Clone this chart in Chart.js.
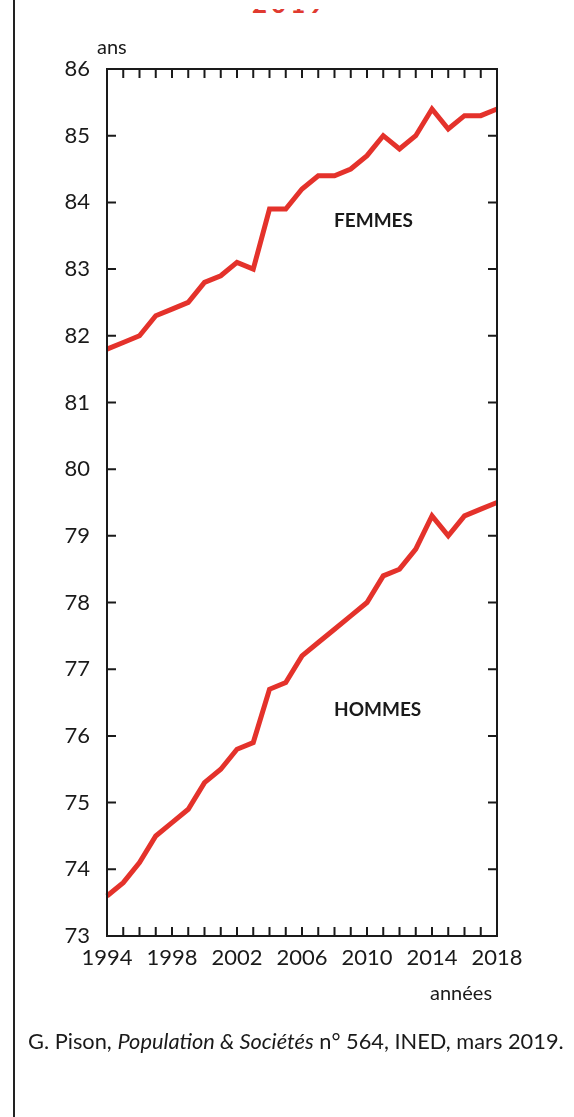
<!DOCTYPE html>
<html>
<head>
<meta charset="utf-8">
<script src="https://cdn.jsdelivr.net/npm/chart.js@4.4.1/dist/chart.umd.min.js"></script>
<style>
  body { margin: 0; background: #fff; }
  #wrap { position: relative; width: 574px; height: 1117px; overflow: hidden; font-family: Lato, sans-serif; color: #1a1a1a; }
  #wrap canvas { position: absolute; left: 0; top: 0; }
  .txt { position: absolute; white-space: nowrap; }
  #leftbar { position: absolute; left: 13px; top: 0; width: 2px; height: 1117px; background: #222; }
  #redbit { position: absolute; left: 252px; top: 9px; height: 4px; overflow: hidden; }
  #redbit span { display: block; margin-top: -22px; font: bold 26px Lato, sans-serif; color: #e03a30; letter-spacing: 4px; }
</style>
</head>
<body>
<div id="wrap">
  <div id="leftbar"></div>
  <div id="redbit"><span>2019</span></div>
  <canvas id="lifeChart" width="574" height="1117"></canvas>
  <div class="txt" style="left:97px; top:34px; font-size:20px;">ans</div>
  <div class="txt" style="left:430px; top:980px; font-size:20px;">années</div>
  <div class="txt" style="left:334px; top:208px; font-size:19px; font-weight:bold;">FEMMES</div>
  <div class="txt" style="left:334px; top:697px; font-size:19px; font-weight:bold;">HOMMES</div>
  <div class="txt" style="left:28px; top:1027px; font-size:21.8px;">G. Pison, <i>Population &amp; Sociétés</i> n° 564, INED, mars 2019.</div>
</div>
<script>
// espérance de vie à la naissance, France
const years = [1994, 1995, 1996, 1997, 1998, 1999, 2000, 2001, 2002, 2003, 2004, 2005, 2006,
  2007, 2008, 2009, 2010, 2011, 2012, 2013, 2014, 2015, 2016, 2017, 2018];
const femmes = [81.8, 81.9, 82.0, 82.3, 82.4, 82.5, 82.8, 82.9, 83.1, 83.0, 83.9, 83.9, 84.2,
  84.4, 84.4, 84.5, 84.7, 85.0, 84.8, 85.0, 85.4, 85.1, 85.3, 85.3, 85.4];
const hommes = [73.6, 73.8, 74.1, 74.5, 74.7, 74.9, 75.3, 75.5, 75.8, 75.9, 76.7, 76.8, 77.2,
  77.4, 77.6, 77.8, 78.0, 78.4, 78.5, 78.8, 79.3, 79.0, 79.3, 79.4, 79.5];
const xTicks = [1994, 1998, 2002, 2006, 2010, 2014, 2018];
const yMin = 73, yMax = 86;

const red = '#e4322b';

function toPoints(vals) {
  return years.map((y, i) => ({ x: y, y: vals[i] }));
}

// cadre + petites graduations vers l'intérieur
const frameTicks = {
  id: 'frameTicks',
  afterDatasetsDraw(chart) {
    const ctx = chart.ctx, a = chart.chartArea;
    const xs = chart.scales.x, ys = chart.scales.y;
    ctx.save();
    ctx.strokeStyle = '#1a1a1a';
    ctx.lineWidth = 2;
    ctx.strokeRect(a.left, a.top, a.right - a.left, a.bottom - a.top);
    ctx.beginPath();
    years.forEach(y => {
      if (y === years[0] || y === years[years.length - 1]) return;
      const px = xs.getPixelForValue(y);
      ctx.moveTo(px, a.top); ctx.lineTo(px, a.top + 9);
      ctx.moveTo(px, a.bottom); ctx.lineTo(px, a.bottom - 9);
    });
    for (let v = yMin + 1; v < yMax; v++) {
      const py = ys.getPixelForValue(v);
      ctx.moveTo(a.left, py); ctx.lineTo(a.left + 9, py);
      ctx.moveTo(a.right, py); ctx.lineTo(a.right - 9, py);
    }
    ctx.stroke();
    ctx.restore();
  }
};

new Chart(document.getElementById('lifeChart'), {
  type: 'line',
  data: {
    datasets: [
      { label: 'Femmes', data: toPoints(femmes), borderColor: red, borderWidth: 5, pointRadius: 0, tension: 0, clip: false },
      { label: 'Hommes', data: toPoints(hommes), borderColor: red, borderWidth: 5, pointRadius: 0, tension: 0, clip: false }
    ]
  },
  options: {
    responsive: false,
    animation: false,
    layout: { padding: { top: 69, right: 77, bottom: 141, left: 0 } },
    plugins: { legend: { display: false }, tooltip: { enabled: false } },
    scales: {
      x: {
        type: 'linear', min: 1994, max: 2018,
        afterBuildTicks: s => { s.ticks = xTicks.map(v => ({ value: v })); },
        afterFit: s => { s.height = 40; },
        grid: { display: false },
        border: { display: false },
        ticks: { color: '#1a1a1a', font: { family: 'Lato', size: 22 }, padding: 1, maxRotation: 0, autoSkip: false,
          callback: v => String(v) }
      },
      y: {
        min: yMin, max: yMax,
        afterFit: s => { s.width = 107; },
        grid: { display: false },
        border: { display: false },
        ticks: { stepSize: 1, color: '#1a1a1a', font: { family: 'Lato', size: 22 }, padding: 9 }
      }
    }
  },
  plugins: [frameTicks]
});
</script>
</body>
</html>
